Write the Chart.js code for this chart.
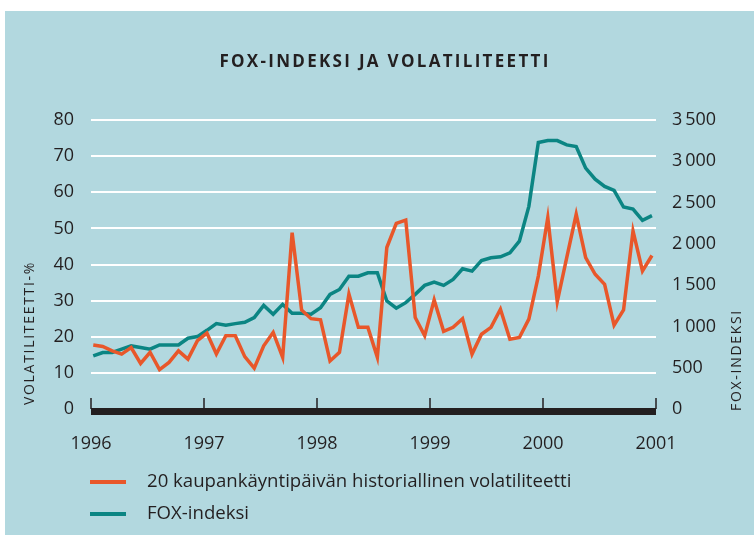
<!DOCTYPE html>
<html>
<head>
<meta charset="utf-8">
<script src="https://cdn.jsdelivr.net/npm/chart.js@4"></script>
<style>
  body { margin: 0; background: #ffffff; }
  #panel { position: absolute; left: 5px; top: 11px; width: 749px; height: 524px; background: #b2d8df; }
</style>
</head>
<body>
<div id="panel"><canvas id="foxChart" width="749" height="524"></canvas></div>
<script>
// vuodet x-akselilla
const years = [1996, 1997, 1998, 1999, 2000, 2001];
const volTicks = [0, 10, 20, 30, 40, 50, 60, 70, 80];
const foxTicks = [0, 500, 1000, 1500, 2000, 2500, 3000, 3500];

// kuukausittaiset havainnot, tammi 1996 - joulu 2000
const volatility = [
  17.7, 17.3, 16.1, 15.2, 17.0, 12.6, 15.7, 10.9, 12.9, 16.1, 13.8, 18.9,
  21.0, 15.2, 20.3, 20.3, 14.5, 11.3, 17.5, 21.2, 14.3, 48.8, 27.4, 25.0,
  24.7, 13.3, 15.7, 31.8, 22.6, 22.6, 14.3, 44.7, 51.4, 52.3, 25.3, 20.3,
  30.2, 21.5, 22.6, 25.0, 15.2, 20.7, 22.6, 27.6, 19.3, 19.8, 24.9, 36.8,
  53.0, 29.7, 41.9, 53.9, 41.9, 37.3, 34.5, 23.2, 27.4, 49.3, 38.2, 42.5
];
const foxIndex = [
  643, 684, 684, 724, 764, 744, 724, 776, 776, 776, 857, 877,
  953, 1034, 1014, 1034, 1050, 1107, 1255, 1147, 1267, 1159, 1159, 1147,
  1227, 1388, 1448, 1609, 1609, 1650, 1650, 1308, 1220, 1288, 1388, 1497,
  1537, 1497, 1569, 1698, 1670, 1798, 1831, 1843, 1891, 2032, 2454, 3227,
  3251, 3251, 3199, 3179, 2917, 2784, 2696, 2647, 2446, 2422, 2285, 2342
];

const ink = "#231f20";
const orange = "#e8572a";
const teal = "#0b8583";
const font = "'Open Sans', 'DejaVu Sans', sans-serif";

// havainnon sijainti vuosina
function when(i) {
  return 1996.02 + i * 0.0838;
}

function thousands(v) {
  const s = String(v);
  return s.length > 3 ? s.slice(0, -3) + "\u2009" + s.slice(-3) : s;
}

const extras = {
  id: "extras",
  afterDraw(chart) {
    const ctx = chart.ctx;
    const x = chart.scales.x;
    const y = chart.scales.y;
    const zero = y.getPixelForValue(0);

    // musta perusviiva ja vuosimerkit
    ctx.save();
    ctx.fillStyle = ink;
    ctx.fillRect(x.left, zero - 1, x.right - x.left, 7);
    ctx.strokeStyle = ink;
    ctx.lineWidth = 1.5;
    years.forEach(v => {
      const px = x.getPixelForValue(v);
      ctx.beginPath();
      ctx.moveTo(px, zero - 11);
      ctx.lineTo(px, zero);
      ctx.stroke();
    });

    // otsikko
    ctx.fillStyle = ink;
    ctx.textAlign = "center";
    ctx.textBaseline = "middle";
    ctx.font = "bold 17px " + font;
    ctx.letterSpacing = "2.3px";
    ctx.fillText("FOX-INDEKSI JA VOLATILITEETTI", 380, 51);

    // akseleiden nimet
    ctx.font = "14px " + font;
    ctx.letterSpacing = "1.7px";
    ctx.save();
    ctx.translate(25, 322);
    ctx.rotate(-Math.PI / 2);
    ctx.fillText("VOLATILITEETTI-%", 0, 0);
    ctx.restore();
    ctx.save();
    ctx.translate(732, 349);
    ctx.rotate(-Math.PI / 2);
    ctx.fillText("FOX-INDEKSI", 0, 0);
    ctx.restore();

    // selite
    ctx.letterSpacing = "0px";
    ctx.textAlign = "left";
    ctx.font = "18.6px " + font;
    chart.data.datasets.forEach((ds, k) => {
      const ly = 471 + k * 32;
      ctx.strokeStyle = ds.borderColor;
      ctx.lineWidth = 4;
      ctx.beginPath();
      ctx.moveTo(85, ly);
      ctx.lineTo(121, ly);
      ctx.stroke();
      ctx.fillStyle = ink;
      ctx.fillText(ds.label, 142, ly);
    });
    ctx.restore();
  }
};

const ctx = document.getElementById("foxChart").getContext("2d");
new Chart(ctx, {
  type: "line",
  data: {
    datasets: [
      {
        label: "20 kaupankäyntipäivän historiallinen volatiliteetti",
        data: volatility.map((v, i) => ({ x: when(i), y: v })),
        borderColor: orange,
        borderWidth: 3.5,
        pointRadius: 0,
        yAxisID: "y"
      },
      {
        label: "FOX-indeksi",
        data: foxIndex.map((v, i) => ({ x: when(i), y: v })),
        borderColor: teal,
        borderWidth: 3.5,
        pointRadius: 0,
        yAxisID: "y1"
      }
    ]
  },
  options: {
    responsive: false,
    animation: false,
    devicePixelRatio: 1,
    layout: { padding: { top: 109, left: 0, right: 0, bottom: 0 } },
    plugins: {
      legend: { display: false },
      title: { display: false },
      tooltip: { enabled: false }
    },
    scales: {
      x: {
        type: "linear",
        min: 1996,
        max: 2001,
        afterBuildTicks: s => { s.ticks = years.map(v => ({ value: v })); },
        afterFit: s => { s.height = 126; },
        grid: { display: false },
        border: { display: false },
        ticks: {
          padding: 16,
          color: ink,
          font: { family: font, size: 18 },
          callback: v => String(v),
          maxRotation: 0
        }
      },
      y: {
        position: "left",
        min: 0,
        max: 80,
        afterBuildTicks: s => { s.ticks = volTicks.map(v => ({ value: v })); },
        afterFit: s => { s.width = 86; },
        grid: { color: "#ffffff", lineWidth: 2, drawTicks: false },
        border: { display: false },
        ticks: {
          padding: 17,
          color: ink,
          font: { family: font, size: 18 }
        }
      },
      y1: {
        position: "right",
        min: 0,
        max: 3500,
        afterBuildTicks: s => { s.ticks = foxTicks.map(v => ({ value: v })); },
        afterFit: s => { s.width = 98; },
        grid: { display: false, drawTicks: false },
        border: { display: false },
        ticks: {
          padding: 16,
          color: ink,
          font: { family: font, size: 18 },
          callback: v => thousands(v)
        }
      }
    }
  },
  plugins: [extras]
});
</script>
</body>
</html>
